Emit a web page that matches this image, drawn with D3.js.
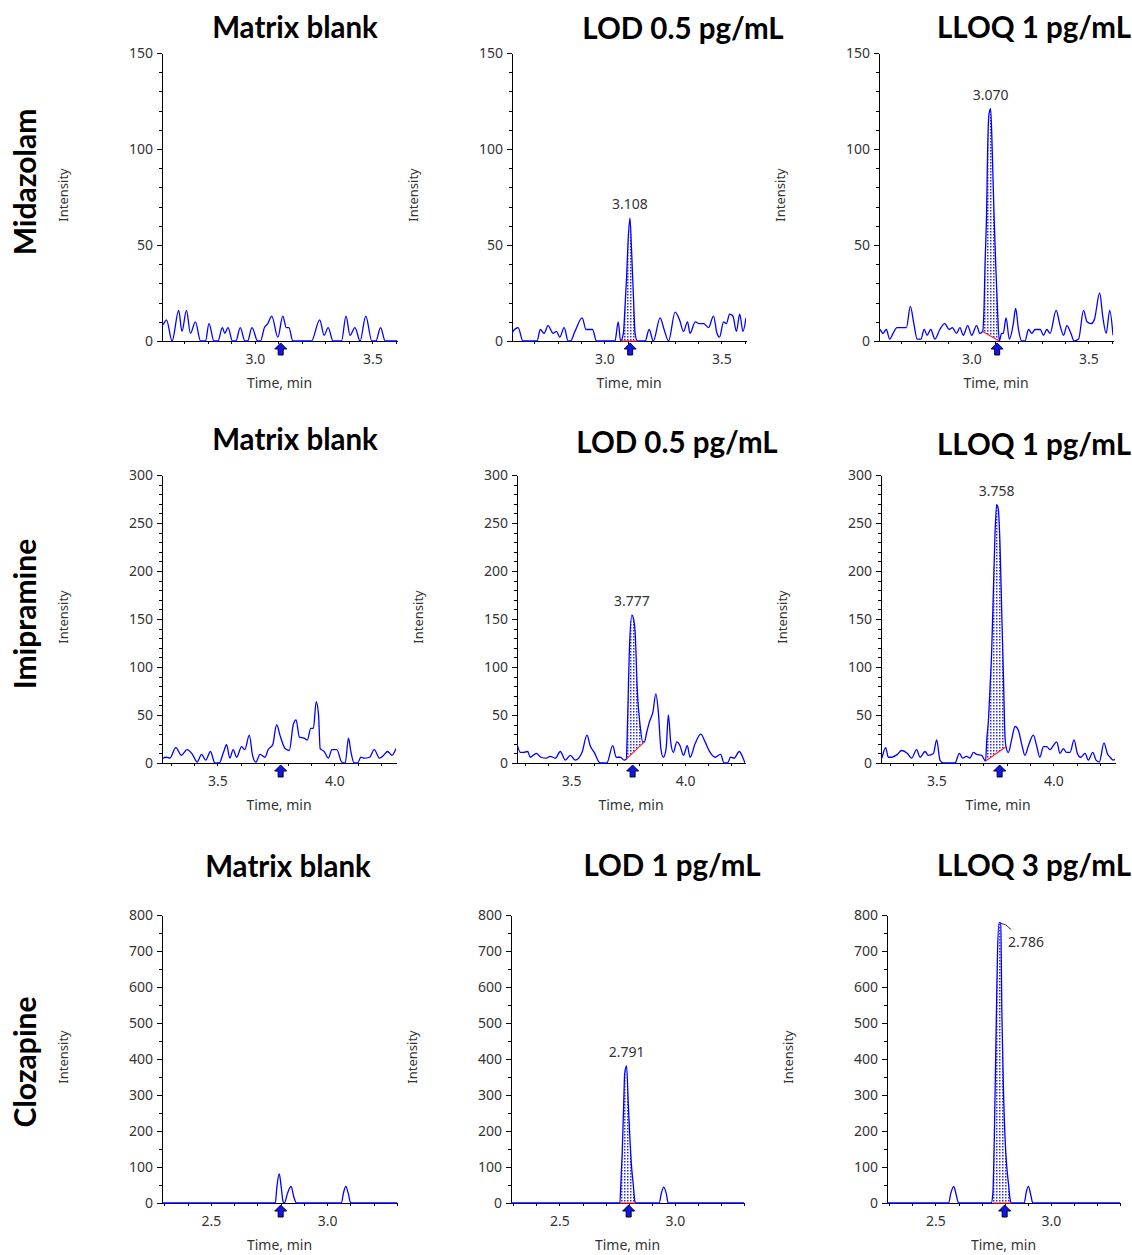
<!DOCTYPE html>
<meta charset="utf-8">
<script src="https://cdn.jsdelivr.net/npm/d3@7"></script>

<style type="text/css">
body {
	margin: 0;
	background: #fff;
}
.title {
	font-family: Lato, "Open Sans", sans-serif;
	font-weight: bold;
	font-size: 29.5px;
	fill: #000;
}
.rowlabel {
	font-family: Lato, "Open Sans", sans-serif;
	font-weight: bold;
	font-size: 30px;
	fill: #000;
}
.axis text {
	font-family: "Noto Sans", "Open Sans", sans-serif;
	font-size: 14px;
	fill: #333;
}
.axis path, .axis line {
	stroke: #000;
	shape-rendering: crispEdges;
}
.axlabel {
	font-family: "Noto Sans", "Open Sans", sans-serif;
	font-size: 14px;
	fill: #333;
}
.ylabel {
	font-size: 13px;
}
.trace {
	fill: none;
	stroke: #0000ff;
	stroke-width: 1.3px;
}
.peakarea {
	fill: url(#dots);
	stroke: none;
}
.baseline {
	stroke: #ff2020;
	stroke-width: 1.2px;
}
.rtarrow {
	fill: #1414e6;
	stroke: #000033;
	stroke-width: 1px;
}
.peaklabel {
	font-family: "Noto Sans", "Open Sans", sans-serif;
	font-size: 14px;
	fill: #333;
}
</style>

<body>
<svg id="chart" width="1132" height="1255"></svg>

<script>

// ---- data ----
var compounds = ["Midazolam", "Imipramine", "Clozapine"];

var panelTitles = [
	["Matrix blank", "LOD 0.5 pg/mL", "LLOQ 1 pg/mL"],
	["Matrix blank", "LOD 0.5 pg/mL", "LLOQ 1 pg/mL"],
	["Matrix blank", "LOD 1 pg/mL", "LLOQ 3 pg/mL"]
];

var timeDomains = [[2.605, 3.605], [3.263, 4.263], [2.29, 3.30]];
var intensityMax = [150, 300, 800];
var yMajorTicks = [[0, 50, 100, 150], [0, 50, 100, 150, 200, 250, 300], [0, 100, 200, 300, 400, 500, 600, 700, 800]];
var yMinorStep = [10, 10, 50];
var xMajorTicks = [[3.0, 3.5], [3.5, 4.0], [2.5, 3.0]];
var expectedRT = [3.11, 3.77, 2.80];

// [time (min), intensity]
var midazolamBlank = [[2.605,8],[2.612,9],[2.624,11],[2.648,0],[2.676,16],[2.690,5],[2.709,16],[2.726,4],[2.747,10],[2.769,0],[2.790,0],[2.805,9],[2.826,0],[2.843,0],[2.862,7],[2.872,4],[2.886,7],[2.905,0],[2.919,0],[2.938,7],[2.958,0],[2.969,0],[2.988,7],[3.012,0],[3.024,0],[3.041,7],[3.055,9],[3.072,13],[3.098,2],[3.119,13],[3.134,7],[3.145,7],[3.162,0],[3.241,0],[3.276,11],[3.295,3],[3.312,7],[3.333,0],[3.369,0],[3.388,13],[3.405,3],[3.426,7],[3.448,0],[3.472,13],[3.498,0],[3.515,0],[3.535,7],[3.555,0],[3.605,0]];

var midazolamLOD = [[2.605,3],[2.609,5],[2.631,7],[2.652,0],[2.712,0],[2.726,6],[2.742,4],[2.759,8],[2.781,4],[2.795,5],[2.809,2],[2.828,7],[2.845,0],[2.855,0],[2.874,5],[2.905,12],[2.921,6],[2.949,6],[2.966,0],[3.045,0],[3.059,10],[3.069,0],[3.081,4],[3.088,18],[3.095,34],[3.102,54],[3.109,64],[3.116,47],[3.124,23],[3.131,4],[3.141,0],[3.174,0],[3.191,6],[3.209,0],[3.238,12],[3.255,6],[3.274,0],[3.302,15],[3.321,11],[3.338,5],[3.355,10],[3.366,4],[3.388,10],[3.406,9],[3.424,9],[3.445,7],[3.466,13],[3.481,4],[3.492,2],[3.509,10],[3.521,9],[3.535,14],[3.549,13],[3.564,5],[3.578,14],[3.592,5],[3.605,12]];

var midazolamLLOQ = [[2.605,5],[2.608,6],[2.622,4],[2.636,6],[2.651,1],[2.665,4],[2.682,7],[2.701,7],[2.722,7],[2.739,18],[2.754,9],[2.768,1],[2.784,1],[2.798,6],[2.811,3],[2.826,6],[2.844,1],[2.865,6],[2.886,9],[2.905,6],[2.919,7],[2.936,4],[2.951,7],[2.965,3],[2.984,8],[3.001,3],[3.022,8],[3.036,4],[3.048,5],[3.054,18],[3.058,39],[3.065,68],[3.069,98],[3.075,118],[3.082,121],[3.089,99],[3.096,68],[3.104,39],[3.111,18],[3.119,0],[3.129,4],[3.136,4],[3.148,12],[3.162,1],[3.179,9],[3.189,17],[3.201,6],[3.215,0],[3.229,0],[3.244,6],[3.258,4],[3.272,6],[3.294,6],[3.308,3],[3.322,6],[3.336,4],[3.362,16],[3.379,8],[3.394,3],[3.408,8],[3.425,4],[3.439,0],[3.458,1],[3.479,16],[3.494,10],[3.511,9],[3.525,11],[3.548,25],[3.562,12],[3.576,4],[3.591,16],[3.605,3]];

var imipramineBlank = [[3.263,4],[3.267,5],[3.282,6],[3.296,5],[3.322,16],[3.346,8],[3.370,14],[3.393,9],[3.413,1],[3.432,9],[3.450,3],[3.470,12],[3.489,0],[3.507,0],[3.527,12],[3.539,19],[3.553,5],[3.567,14],[3.582,6],[3.603,17],[3.617,14],[3.636,29],[3.650,8],[3.664,1],[3.682,9],[3.703,6],[3.717,14],[3.736,19],[3.753,40],[3.767,29],[3.789,15],[3.807,13],[3.824,40],[3.836,45],[3.850,27],[3.870,26],[3.884,24],[3.899,36],[3.910,36],[3.922,64],[3.932,50],[3.939,15],[3.956,12],[3.974,5],[3.989,14],[4.010,14],[4.031,1],[4.046,0],[4.060,26],[4.070,12],[4.084,0],[4.099,0],[4.113,6],[4.127,5],[4.150,6],[4.170,14],[4.193,5],[4.210,8],[4.227,12],[4.246,8],[4.263,15]];

var imipramineLOD = [[3.263,20],[3.278,11],[3.292,11],[3.310,12],[3.321,6],[3.348,10],[3.368,6],[3.391,5],[3.409,7],[3.431,5],[3.453,12],[3.475,3],[3.497,8],[3.518,3],[3.548,11],[3.570,29],[3.584,18],[3.602,11],[3.628,0],[3.657,0],[3.683,18],[3.698,6],[3.716,6],[3.733,3],[3.742,4],[3.749,53],[3.756,119],[3.767,154],[3.774,150],[3.781,137],[3.791,74],[3.803,39],[3.815,22],[3.822,22],[3.832,32],[3.844,43],[3.859,53],[3.872,72],[3.883,53],[3.894,15],[3.905,6],[3.917,15],[3.927,50],[3.937,22],[3.949,11],[3.964,22],[3.978,18],[3.993,8],[4.010,18],[4.022,6],[4.044,20],[4.069,30],[4.088,22],[4.110,11],[4.132,6],[4.156,9],[4.171,0],[4.186,0],[4.200,6],[4.215,5],[4.238,12],[4.253,6],[4.263,0]];

var imipramineLLOQ = [[3.263,3],[3.266,5],[3.283,16],[3.294,6],[3.309,6],[3.333,9],[3.351,13],[3.376,10],[3.394,5],[3.415,14],[3.430,6],[3.451,12],[3.465,8],[3.487,10],[3.501,24],[3.515,3],[3.529,0],[3.579,0],[3.598,10],[3.612,5],[3.629,7],[3.643,5],[3.658,11],[3.672,9],[3.693,8],[3.710,2],[3.715,24],[3.722,44],[3.729,79],[3.736,117],[3.743,177],[3.750,237],[3.757,269],[3.764,265],[3.772,224],[3.779,156],[3.786,93],[3.793,27],[3.797,17],[3.807,11],[3.821,24],[3.836,38],[3.850,34],[3.864,20],[3.878,8],[3.893,18],[3.914,29],[3.928,18],[3.942,6],[3.957,17],[3.971,17],[3.985,14],[3.999,18],[4.014,22],[4.028,10],[4.042,15],[4.056,11],[4.071,11],[4.088,24],[4.102,10],[4.116,6],[4.135,10],[4.149,3],[4.168,11],[4.182,3],[4.196,1],[4.216,21],[4.230,10],[4.242,6],[4.256,3],[4.263,4]];

var clozapineBlank = [[2.290,0],[2.777,0],[2.784,46],[2.794,81],[2.802,46],[2.810,5],[2.816,0],[2.830,28],[2.845,46],[2.856,18],[2.868,0],[3.061,0],[3.070,28],[3.080,46],[3.090,28],[3.101,0],[3.300,0]];

var clozapineLOD = [[2.290,0],[2.762,0],[2.766,51],[2.772,139],[2.778,264],[2.783,361],[2.791,381],[2.798,282],[2.805,185],[2.812,106],[2.820,51],[2.827,5],[2.831,0],[2.932,0],[2.942,28],[2.952,44],[2.964,23],[2.971,0],[3.300,0]];

var clozapineLLOQ = [[2.290,0],[2.557,0],[2.567,28],[2.579,46],[2.590,23],[2.600,0],[2.742,0],[2.749,28],[2.755,176],[2.762,440],[2.769,694],[2.776,779],[2.783,777],[2.788,523],[2.795,310],[2.802,176],[2.809,102],[2.817,51],[2.824,9],[2.828,0],[2.885,0],[2.893,28],[2.903,46],[2.913,23],[2.922,0],[3.300,0]];

var traces = [
	[midazolamBlank, midazolamLOD, midazolamLLOQ],
	[imipramineBlank, imipramineLOD, imipramineLLOQ],
	[clozapineBlank, clozapineLOD, clozapineLLOQ]
];

// integrated peak: [start time, start baseline, end time, end baseline]
var peakWindows = [
	[null, [3.069, 0, 3.141, 0], [3.048, 5, 3.119, 0]],
	[null, [3.742, 4, 3.822, 22], [3.710, 2, 3.797, 17]],
	[null, [2.762, 0, 2.831, 0], [2.749, 0, 2.828, 0]]
];
var peakLabels = [
	[null, "3.108", "3.070"],
	[null, "3.777", "3.758"],
	[null, "2.791", "2.786"]
];

// ---- layout ----
var plotLeft = [[162, 512, 879], [162, 517, 881], [162, 511, 887]],
	plotRight = [[397, 746, 1113], [396, 745, 1115], [397, 744, 1120]],
	plotTop = [53, 475, 915],
	plotZero = [341, 763, 1203],
	titleX = [[295, 683, 1034], [295, 677, 1034], [288, 672, 1034]],
	titleY = [[38, 39, 38], [450, 453, 455], [877, 876, 876]],
	rowLabelY = [182, 614, 1062];

var svg = d3.select("#chart");

var defs = svg.append("defs");
var pat = defs.append("pattern")
	.attr("id", "dots")
	.attr("width", 3)
	.attr("height", 3)
	.attr("patternUnits", "userSpaceOnUse");
pat.append("rect").attr("width", 3).attr("height", 3).attr("fill", "#fff");
pat.append("rect").attr("width", 1.5).attr("height", 1.5).attr("fill", "#2a2aff");

// row labels
compounds.forEach(function(name, r) {
	svg.append("text")
		.attr("class", "rowlabel")
		.attr("text-anchor", "middle")
		.attr("transform", "translate(36," + rowLabelY[r] + ") rotate(-90)")
		.text(name);
});

for (var r = 0; r < 3; r++) {
	for (var c = 0; c < 3; c++) {
		drawPanel(r, c);
	}
}

function drawPanel(r, c) {
	var left = plotLeft[r][c],
		right = plotRight[r][c],
		top = plotTop[r],
		zero = plotZero[r];

	var x = d3.scaleLinear().domain(timeDomains[r]).range([left, right]);
	var y = d3.scaleLinear().domain([0, intensityMax[r]]).range([zero, top]);

	var g = svg.append("g");

	// title
	g.append("text")
		.attr("class", "title")
		.attr("x", titleX[r][c])
		.attr("y", titleY[r][c])
		.attr("text-anchor", "middle")
		.text(panelTitles[r][c]);

	var clipId = "clip" + r + c;
	defs.append("clipPath").attr("id", clipId)
		.append("rect")
		.attr("x", left).attr("y", top - 30)
		.attr("width", right - left).attr("height", zero - top + 31);

	// minor y ticks
	g.append("g")
		.attr("class", "axis")
		.attr("transform", "translate(" + left + ",0)")
		.call(d3.axisLeft(y).tickValues(d3.range(0, intensityMax[r] + 0.1, yMinorStep[r])).tickSize(3).tickFormat(""))
		.select(".domain").remove();

	// major y axis
	var ya = g.append("g")
		.attr("class", "axis")
		.attr("transform", "translate(" + left + ",0)")
		.call(d3.axisLeft(y).tickValues(yMajorTicks[r]).tickSize(5).tickSizeOuter(0).tickPadding(4));
	ya.attr("font-family", null).attr("font-size", null);

	// x axis
	var timeMinor = d3.range(Math.ceil(timeDomains[r][0] * 10), Math.floor(timeDomains[r][1] * 10) + 1).map(function(d) { return d / 10; });
	var xa = g.append("g")
		.attr("class", "axis")
		.attr("transform", "translate(0," + zero + ")")
		.call(d3.axisBottom(x).tickValues(timeMinor).tickSize(3).tickSizeOuter(0).tickPadding(10)
			.tickFormat(function(d) {
				return xMajorTicks[r].some(function(m) { return Math.abs(m - d) < 1e-6; }) ? d3.format(".1f")(d) : "";
			}));
	xa.attr("font-family", null).attr("font-size", null);

	// axis titles
	g.append("text")
		.attr("class", "axlabel ylabel")
		.attr("text-anchor", "middle")
		.attr("transform", "translate(" + (left - 94) + "," + (top + 142) + ") rotate(-90)")
		.text("Intensity");
	g.append("text")
		.attr("class", "axlabel")
		.attr("text-anchor", "middle")
		.attr("x", (left + right) / 2)
		.attr("y", zero + 47)
		.text("Time, min");

	var data = traces[r][c];
	var plot = g.append("g").attr("clip-path", "url(#" + clipId + ")");

	// integrated peak
	var win = peakWindows[r][c];
	if (win) {
		var inWin = data.filter(function(d) { return d[0] >= win[0] - 1e-9 && d[0] <= win[2] + 1e-9; });
		var base = function(t) { return win[1] + (win[3] - win[1]) * (t - win[0]) / (win[2] - win[0]); };
		plot.append("path")
			.attr("class", "peakarea")
			.attr("d", d3.area()
				.curve(d3.curveMonotoneX)
				.x(function(d) { return x(d[0]); })
				.y0(function(d) { return y(base(d[0])); })
				.y1(function(d) { return y(d[1]); })(inWin));
	}

	plot.append("path")
		.attr("class", "trace")
		.attr("d", d3.line()
			.curve(d3.curveMonotoneX)
			.x(function(d) { return x(d[0]); })
			.y(function(d) { return y(d[1]); })(data));

	if (win) {
		plot.append("line")
			.attr("class", "baseline")
			.attr("x1", x(win[0])).attr("y1", y(win[1]))
			.attr("x2", x(win[2])).attr("y2", y(win[3]));

		var apex = inWin.reduce(function(a, b) { return b[1] > a[1] ? b : a; });
		var ax = x(apex[0]), ay = y(apex[1]);
		if (apex[1] > intensityMax[r] * 0.9) {
			// label pushed to the right with a leader
			g.append("path")
				.attr("d", "M" + (ax + 1) + "," + (ay + 0.5) + " Q" + (ax + 7) + "," + (ay + 1) + " " + (ax + 12) + "," + (ay + 7))
				.attr("fill", "none").attr("stroke", "#333").attr("stroke-width", 1);
			g.append("text")
				.attr("class", "peaklabel")
				.attr("x", ax + 9)
				.attr("y", ay + 24)
				.text(peakLabels[r][c]);
		} else {
			g.append("text")
				.attr("class", "peaklabel")
				.attr("text-anchor", "middle")
				.attr("x", ax)
				.attr("y", ay - 9)
				.text(peakLabels[r][c]);
		}
	}

	// expected retention time arrow
	var rx = x(expectedRT[r]);
	g.append("path")
		.attr("class", "rtarrow")
		.attr("d", "M" + rx + "," + (zero + 2) + " l6,6 l-3.5,0 l0,6 l-5,0 l0,-6 l-3.5,0 z");
}

</script>
</body>
</html>
